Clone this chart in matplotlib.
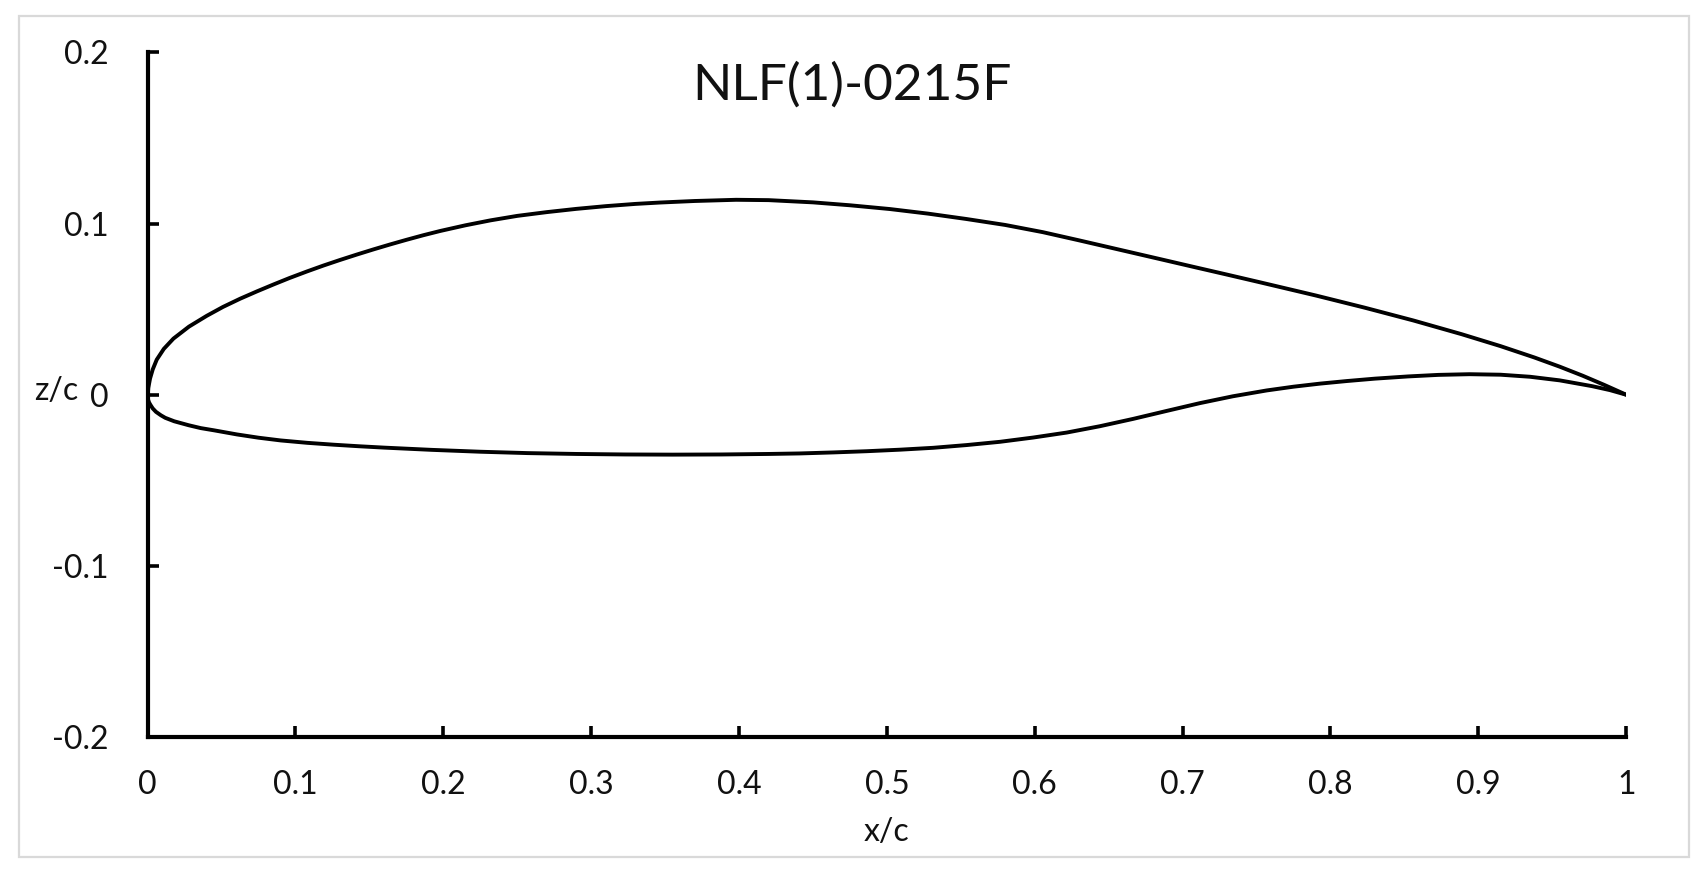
import matplotlib.pyplot as plt
from matplotlib.patches import Rectangle

# NLF(1)-0215F airfoil
upper_x = [0, 0.0005, 0.0017, 0.0035, 0.0062, 0.011, 0.0175, 0.028, 0.04, 0.051, 0.0626,
           0.074, 0.0851, 0.096, 0.1077, 0.119, 0.13, 0.1415, 0.1527, 0.164, 0.175,
           0.1865, 0.198, 0.215, 0.232, 0.25, 0.27, 0.29, 0.31, 0.33, 0.3465, 0.37,
           0.398, 0.42, 0.45, 0.475, 0.502, 0.528, 0.5536, 0.58, 0.6054, 0.63, 0.657,
           0.683, 0.7089, 0.73, 0.7523, 0.79, 0.823, 0.856, 0.8886, 0.915, 0.9378,
           0.955, 0.9706, 0.985, 1.0]
upper_z = [-0.002, 0.004, 0.0095, 0.0148, 0.0205, 0.0268, 0.0328, 0.0398, 0.0461, 0.0513,
           0.0561, 0.0604, 0.0644, 0.0682, 0.072, 0.0755, 0.0787, 0.0819, 0.0849,
           0.0878, 0.0905, 0.0932, 0.0957, 0.099, 0.1019, 0.1045, 0.1067, 0.1086,
           0.1102, 0.1115, 0.1123, 0.1132, 0.1139, 0.1137, 0.1124, 0.1107, 0.1085,
           0.1058, 0.1027, 0.0992, 0.095, 0.0902, 0.0848, 0.0796, 0.0744, 0.0702,
           0.0657, 0.058, 0.0509, 0.0434, 0.0354, 0.0284, 0.0218, 0.0164, 0.0111,
           0.0058, 0.0]

lower_x = [0, 0.001, 0.002, 0.0035, 0.0057, 0.009, 0.012, 0.018, 0.0277, 0.036, 0.045,
           0.0605, 0.075, 0.09, 0.108, 0.126, 0.143, 0.16, 0.192, 0.225, 0.257, 0.29,
           0.323, 0.355, 0.388, 0.42, 0.441, 0.464, 0.4863, 0.509, 0.5314, 0.554,
           0.5765, 0.599, 0.6216, 0.644, 0.6666, 0.689, 0.7117, 0.734, 0.7568, 0.775,
           0.793, 0.811, 0.83, 0.8525, 0.873, 0.894, 0.915, 0.935, 0.955, 0.977, 0.989,
           1.0]
lower_z = [-0.002, -0.0045, -0.006, -0.008, -0.010, -0.012, -0.0135, -0.0155, -0.0178,
           -0.0195, -0.0208, -0.0232, -0.0251, -0.0267, -0.0281, -0.0292, -0.0301,
           -0.0309, -0.0322, -0.0333, -0.0341, -0.0346, -0.0349, -0.035, -0.0349,
           -0.0346, -0.0343, -0.0337, -0.033, -0.0321, -0.031, -0.0294, -0.0275, -0.025,
           -0.0221, -0.0184, -0.0141, -0.0095, -0.0049, -0.0009, 0.0025, 0.0047, 0.0065,
           0.008, 0.0094, 0.0107, 0.0116, 0.012, 0.0117, 0.0105, 0.0084, 0.005, 0.0027,
           0.0]

x_ticks = [0, 0.1, 0.2, 0.3, 0.4, 0.5, 0.6, 0.7, 0.8, 0.9, 1]
x_labels = ["0", "0.1", "0.2", "0.3", "0.4", "0.5", "0.6", "0.7", "0.8", "0.9", "1"]
y_ticks = [-0.2, -0.1, 0, 0.1, 0.2]
y_labels = ["-0.2", "-0.1", "0", "0.1", "0.2"]

plt.rcParams['font.family'] = ['Lato', 'DejaVu Sans']
txt = '#111111'

fig = plt.figure(figsize=(17, 8.71), dpi=100)
ax = fig.add_axes([0.0868, 0.1538, 0.8698, 0.786])

ax.plot(upper_x, upper_z, color='black', lw=2.8, solid_joinstyle='round',
        solid_capstyle='round')
ax.plot(lower_x, lower_z, color='black', lw=2.8, solid_joinstyle='round',
        solid_capstyle='round')

ax.set_xlim(0, 1)
ax.set_ylim(-0.2, 0.2)
ax.set_xticks(x_ticks)
ax.set_xticklabels(x_labels)
ax.set_yticks(y_ticks)
ax.set_yticklabels(y_labels)

for s in ['top', 'right']:
    ax.spines[s].set_visible(False)
for s in ['left', 'bottom']:
    ax.spines[s].set_linewidth(3)
    ax.spines[s].set_color('black')
    ax.spines[s].set_capstyle('projecting')

ax.tick_params(axis='x', direction='in', length=8, width=2.6, pad=24,
               labelsize=23, labelcolor=txt)
ax.tick_params(axis='y', direction='in', length=8, width=2.6, pad=28,
               labelsize=23, labelcolor=txt)

ax.text(0.4765, 0.181, "NLF(1)-0215F", ha='center', va='center',
        fontsize=37, color=txt)

fig.text(56 / 1700, 1 - 391 / 871, "z/c", ha='center', va='center',
         fontsize=23, color=txt)
fig.text(887 / 1700, 1 - 832 / 871, "x/c", ha='center', va='center',
         fontsize=23, color=txt)

# light frame around the chart
fig.add_artist(Rectangle((19 / 1700, 1 - 857 / 871), 1670 / 1700, 841 / 871,
                         transform=fig.transFigure, fill=False,
                         edgecolor='#d9d9d9', lw=1.6))

fig.savefig('out.png', dpi=100, facecolor='white')
